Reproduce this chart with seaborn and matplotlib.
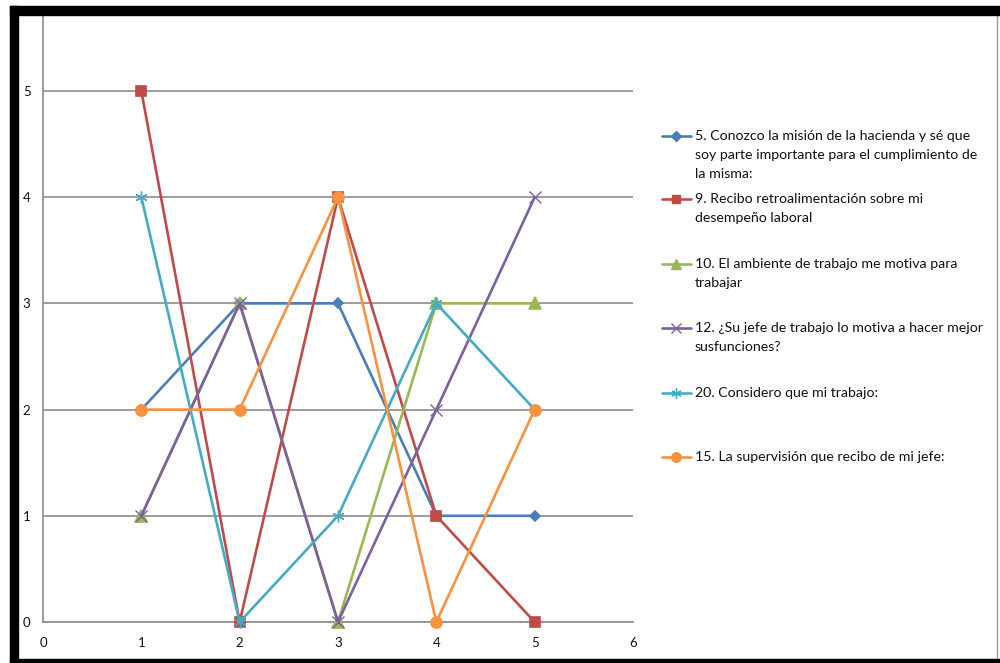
import matplotlib
matplotlib.use("Agg")
import matplotlib.pyplot as plt
import seaborn as sns
from matplotlib.lines import Line2D
from matplotlib.patches import Rectangle

sns.set_theme(style="white")
plt.rcParams['font.family'] = ['Lato', 'DejaVu Sans']

# Survey answers per respondent (x = 1..5)
x_values = [1, 2, 3, 4, 5]
q5_mision = [2, 3, 3, 1, 1]
q9_retroalimentacion = [5, 0, 4, 1, 0]
q10_ambiente = [1, 3, 0, 3, 3]
q12_jefe_motiva = [1, 3, 0, 2, 4]
q20_trabajo = [4, 0, 1, 3, 2]
q15_supervision = [2, 2, 4, 0, 2]

series_labels = [
    ["5. Conozco la misión de la hacienda y sé que",
     "soy parte importante para el cumplimiento de",
     "la misma:"],
    ["9. Recibo retroalimentación sobre mi",
     "desempeño laboral"],
    ["10. El ambiente de trabajo me motiva para",
     "trabajar"],
    ["12. ¿Su jefe de trabajo lo motiva a hacer mejor",
     "susfunciones?"],
    ["20. Considero que mi trabajo:"],
    ["15. La supervisión que recibo de mi jefe:"],
]
x_ticks = [0, 1, 2, 3, 4, 5, 6]
y_ticks = [0, 1, 2, 3, 4, 5]

series = [q5_mision, q9_retroalimentacion, q10_ambiente,
          q12_jefe_motiva, q20_trabajo, q15_supervision]
colors = ["#4A7EBB", "#BE4B48", "#98B954", "#7D60A0", "#46AAC5", "#F69240"]
markers = ["D", "s", "^", "x", (6, 2, 0), "o"]
msizes = [5.5, 7.5, 8, 8.5, 8.5, 8]

W, H = 1000, 663
fig = plt.figure(figsize=(W / 100, H / 100), dpi=100)
fig.patch.set_facecolor("white")

def fx(px):
    return px / W

def fy(py):
    return 1 - py / H

ax = fig.add_axes([fx(43), fy(622), fx(633) - fx(43), fy(15) - fy(622)])
ax.set_facecolor("none")

for vals, c, m, ms in zip(series, colors, markers, msizes):
    filled = m not in ("x",) and not isinstance(m, tuple)
    sns.lineplot(x=x_values, y=vals, ax=ax, color=c, linewidth=1.9,
                 marker=m, markersize=ms,
                 markeredgecolor=c, markerfacecolor=c if filled else "none",
                 markeredgewidth=1.2 if filled else 1.0,
                 clip_on=False, zorder=3)

ax.set_xlim(0, 6)
ax.set_ylim(0, (622 - 15) / 106.2)
ax.set_xticks(x_ticks)
ax.set_yticks(y_ticks)
ax.set_xticklabels([str(v) for v in x_ticks])
ax.set_yticklabels([str(v) for v in y_ticks])
grid_c = "#8C8C8C"
ax.yaxis.grid(True, color=grid_c, linewidth=1.2, zorder=0)
ax.xaxis.grid(False)
ax.set_axisbelow(True)
for side in ("top", "right"):
    ax.spines[side].set_visible(False)
for side in ("left", "bottom"):
    ax.spines[side].set_color(grid_c)
    ax.spines[side].set_linewidth(1.2)
ax.tick_params(axis="both", direction="out", length=5, width=1,
               color=grid_c, labelsize=9.5, labelcolor="#111111")
ax.tick_params(axis="y", pad=4)
ax.tick_params(axis="x", pad=6)
ax.set_xlabel("")
ax.set_ylabel("")
if ax.get_legend():
    ax.get_legend().remove()

# Legend entries on the right
entry_y = [136, 199, 264, 328, 393, 457]
line_gap = 19
for lines, y0, c, m, ms in zip(series_labels, entry_y, colors, markers, msizes):
    filled = m not in ("x",) and not isinstance(m, tuple)
    fig.add_artist(Line2D([fx(662), fx(676), fx(691)], [fy(y0)] * 3,
                          color=c, linewidth=1.9, marker=m, markevery=[1],
                          markersize=ms * 0.85, markeredgecolor=c,
                          markerfacecolor=c if filled else "none",
                          transform=fig.transFigure))
    for k, txt in enumerate(lines):
        fig.text(fx(695), fy(y0 + k * line_gap), txt, fontsize=10.2,
                 color="#111111", va="center", ha="left")

# Outer frame
black = "black"
fig.add_artist(Rectangle((fx(10), fy(15)), 1 - fx(10), fy(6) - fy(15),
                         transform=fig.transFigure, color=black, zorder=10))
fig.add_artist(Rectangle((fx(10), 0), fx(8), fy(6),
                         transform=fig.transFigure, color=black, zorder=10))
fig.add_artist(Rectangle((fx(10), 0), 1 - fx(10), fy(659),
                         transform=fig.transFigure, color=black, zorder=10))
fig.add_artist(Line2D([fx(997), fx(997)], [fy(659), fy(15)], color="#9A9A9A",
                      linewidth=1, transform=fig.transFigure))

fig.savefig("out.png", dpi=100)
